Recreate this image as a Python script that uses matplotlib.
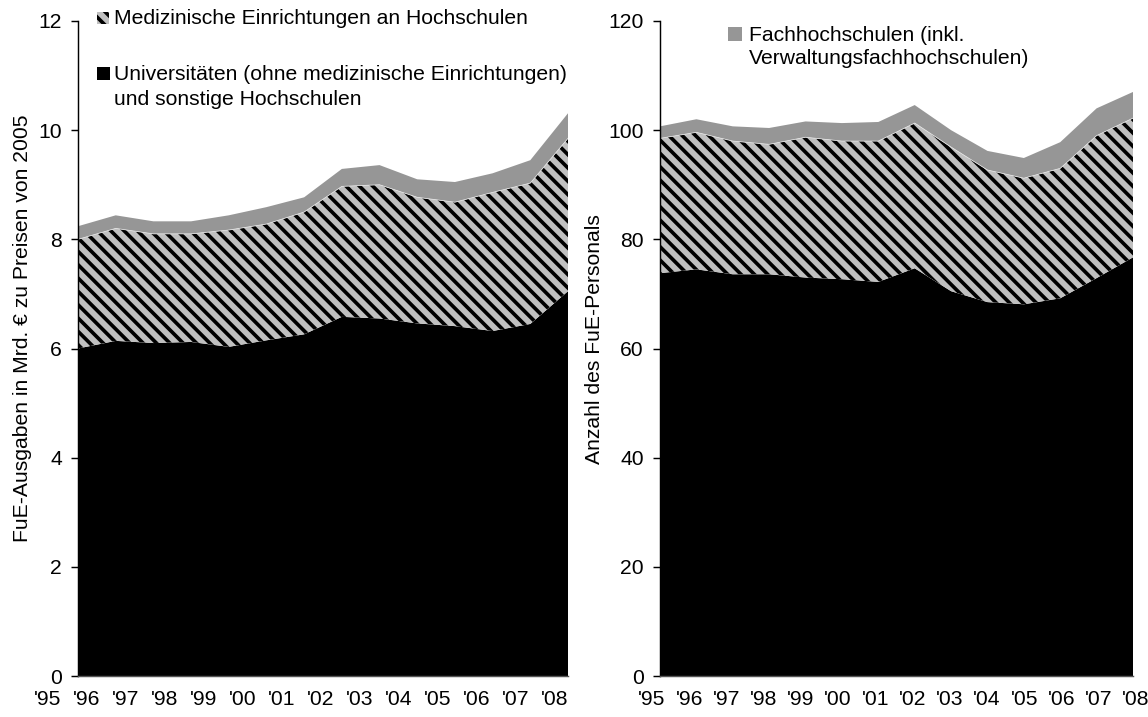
import matplotlib
matplotlib.use("Agg")
import matplotlib.pyplot as plt
from matplotlib.patches import Rectangle
from matplotlib.transforms import ScaledTranslation
import numpy as np

# ---- data ----
years = ["'95", "'96", "'97", "'98", "'99", "'00", "'01", "'02", "'03", "'04", "'05", "'06", "'07", "'08"]

# Left: FuE-Ausgaben (Mrd. EUR, Preise 2005)
uni_exp = [6.00, 6.14, 6.10, 6.12, 6.03, 6.15, 6.26, 6.58, 6.55, 6.46, 6.41, 6.32, 6.45, 7.05]
med_exp = [2.00, 2.06, 2.00, 1.98, 2.14, 2.13, 2.24, 2.39, 2.45, 2.31, 2.27, 2.54, 2.58, 2.80]
fh_exp = [0.24, 0.24, 0.23, 0.23, 0.27, 0.31, 0.27, 0.32, 0.36, 0.33, 0.37, 0.35, 0.42, 0.46]

# Right: FuE-Personal
uni_pers = [73.8, 74.5, 73.6, 73.6, 73.0, 72.7, 72.2, 74.7, 70.5, 68.5, 68.1, 69.2, 72.9, 76.7]
med_pers = [24.7, 25.1, 24.4, 23.8, 25.7, 25.3, 25.8, 26.6, 26.4, 24.2, 23.1, 23.8, 26.1, 25.5]
fh_pers = [2.2, 2.4, 2.7, 3.0, 2.9, 3.3, 3.5, 3.3, 3.1, 3.5, 3.7, 4.8, 5.0, 4.8]

label_med = "Medizinische Einrichtungen an Hochschulen"
label_uni = "Universitäten (ohne medizinische Einrichtungen)\nund sonstige Hochschulen"
label_fh = "Fachhochschulen (inkl.\nVerwaltungsfachhochschulen)"
ylabel_left = "FuE-Ausgaben in Mrd. € zu Preisen von 2005"
ylabel_right = "Anzahl des FuE-Personals"

# ---- style ----
DPI = 80
plt.rcParams['font.family'] = ['Liberation Sans', 'DejaVu Sans']
plt.rcParams['font.size'] = 19
plt.rcParams['hatch.linewidth'] = 3.3
plt.rcParams['hatch.color'] = 'black'

C_UNI = 'black'
C_MED = '#c0c0c0'
C_FH = '#969696'
HATCH = '\\\\'

fig = plt.figure(figsize=(1148 / DPI, 717 / DPI), dpi=DPI)
W, H = 1148, 717

def px_axes(l, t, r, b):
    return fig.add_axes([l / W, 1 - b / H, (r - l) / W, (b - t) / H])

axL = px_axes(78, 21, 568, 676)
axR = px_axes(660, 21, 1133, 676)

def draw(ax, uni, med, fh, ymax, ystep, shift0, shift_step):
    x = np.arange(len(years))
    uni = np.asarray(uni); med = np.asarray(med); fh = np.asarray(fh)
    top_med = uni + med
    top_fh = top_med + fh
    ax.fill_between(x, 0, uni, facecolor=C_UNI, edgecolor='none', linewidth=0)
    ax.fill_between(x, uni, top_med, facecolor=C_MED, hatch=HATCH, edgecolor='black', linewidth=0)
    ax.fill_between(x, top_med, top_fh, facecolor=C_FH, edgecolor='none', linewidth=0)
    ax.plot(x, top_med, color='#e6e6e6', lw=0.7)
    ax.set_xlim(0, len(years) - 1)
    ax.set_ylim(0, ymax)
    ax.set_yticks(np.arange(0, ymax + 0.001, ystep))
    ax.set_xticks(x)
    ax.set_xticklabels(years)
    for s in ['top', 'right']:
        ax.spines[s].set_visible(False)
    ax.spines['left'].set_linewidth(1.3)
    ax.spines['bottom'].set_linewidth(1.3)
    ax.spines['bottom'].set_color('#555555')
    ax.tick_params(axis='y', direction='out', length=6, width=1.3, pad=8.5)
    ax.tick_params(axis='x', length=0, pad=13)
    for i, lab in enumerate(ax.get_xticklabels()):
        off = ScaledTranslation((shift0 + shift_step * i) / DPI, 0, fig.dpi_scale_trans)
        lab.set_transform(lab.get_transform() + off)

draw(axL, uni_exp, med_exp, fh_exp, 12, 2, -30, 1.31)
draw(axR, uni_pers, med_pers, fh_pers, 120, 20, -8, 0.85)

axL.set_ylabel(ylabel_left)
axL.yaxis.set_label_coords(-0.094, 0.531)
axR.set_ylabel(ylabel_right)
axR.yaxis.set_label_coords(-0.118, 0.515)

# ---- legends (manual, figure pixel coords) ----
def key(xp, yc, size, **kw):
    fig.patches.append(Rectangle((xp / W, 1 - (yc + size / 2) / H), size / W, size / H,
                                 transform=fig.transFigure, figure=fig, **kw))

def txt(xp, yc, s, ls=1.2):
    fig.text(xp / W, 1 - yc / H, s, ha='left', va='center', linespacing=ls)

key(97, 18, 12, facecolor=C_MED, hatch=HATCH, edgecolor='black', linewidth=0)
txt(114, 19, label_med)
key(97, 73, 13, facecolor=C_UNI, edgecolor='none')
txt(114, 87, label_uni, ls=1.45)
key(728, 34, 14, facecolor=C_FH, edgecolor='none')
txt(749, 47, label_fh, ls=1.33)

fig.savefig('out.png', dpi=DPI)
